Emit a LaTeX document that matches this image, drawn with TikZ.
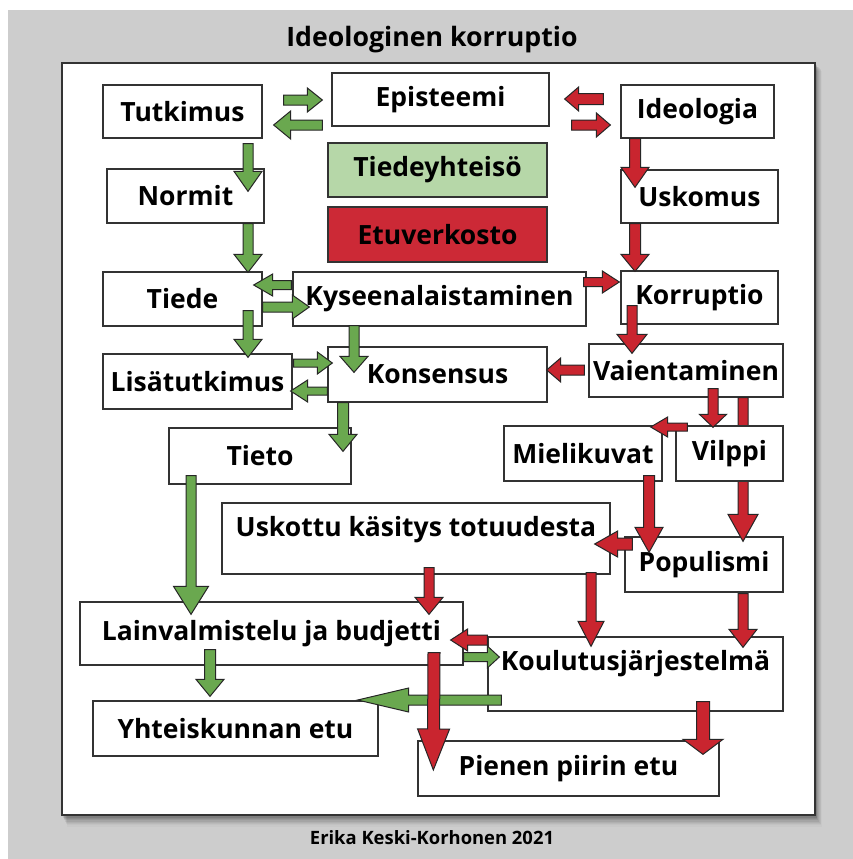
\documentclass[tikz,border=0pt]{standalone}
\usepackage{fontspec}
\setmainfont{Open Sans}
\usetikzlibrary{calc}
\definecolor{bggray}{HTML}{CDCDCD}
\definecolor{gboxc}{HTML}{B6D7A8}
\definecolor{rboxc}{HTML}{CC2936}
\definecolor{garr}{HTML}{6AA84F}
\definecolor{rarr}{HTML}{C9252F}
\definecolor{edge}{HTML}{333333}
\tikzset{
  box/.style={draw=edge, line width=1.3pt, fill=white, inner sep=0pt,
    font=\bfseries\fontsize{26.5}{30}\selectfont, text=black},
  arrowline/.style={draw=black!85, line width=1pt, line join=miter},
  lbl/.style={inner sep=0pt, font=\bfseries\fontsize{26.5}{30}\selectfont, text=black},
}
% #1 colour, #2 start, #3 end, #4 shaft half width, #5 head half width, #6 head length
\newcommand{\barr}[6]{%
  \path[arrowline, fill=#1] let \p1=#2, \p2=#3,
    \n1={atan2(\y2-\y1,\x2-\x1)}, \n2={veclen(\x2-\x1,\y2-\y1)} in
    {[shift={(\p1)}, rotate=\n1]
    (0pt,{-#4pt}) -- ({\n2-#6pt},{-#4pt}) -- ({\n2-#6pt},{-#5pt}) -- ({\n2},0pt)
    -- ({\n2-#6pt},{#5pt}) -- ({\n2-#6pt},{#4pt}) -- (0pt,{#4pt}) -- cycle};}
\begin{document}
\begin{tikzpicture}[x=1pt,y=-1pt]
\useasboundingbox (0,0) rectangle (853,859);
\fill[white] (0,0) rectangle (853,859);
\fill[bggray] (8,10) rectangle (853,859);
% shadow
\foreach \i/\o in {1/0.10,2/0.09,3/0.08,4/0.07,5/0.06,6/0.05,7/0.04,8/0.03,9/0.02}
  \fill[black, opacity=\o] (62+\i*0.6,63+\i*0.9) rectangle (815+\i*0.8,815+\i*1.3);
\fill[white] (62,63) rectangle (815,815);
\draw[edge, line width=1.6pt] (62,63) rectangle (815,815);

\node[inner sep=0pt, font=\bfseries\fontsize{26.7}{30}\selectfont] (title) at (432,40) {Ideologinen korruptio};
\node[inner sep=0pt, font=\bfseries\fontsize{18.4}{22}\selectfont] (caption) at (432,838) {Erika Keski-Korhonen 2021};

% boxes
\node[box, minimum width=159, minimum height=53] (tutk) at (182.5,111.5) {Tutkimus};
\node[box, minimum width=217, minimum height=53] (epist) at (440.5,99.5) {Episteemi};
\node[box, fill=gboxc, minimum width=219, minimum height=54] (tiedey) at (437.5,170) {Tiedeyhteisö};
\node[box, fill=rboxc, minimum width=219, minimum height=55] (etuv) at (437.5,234.5) {Etuverkosto};
\node[box, minimum width=157, minimum height=54] (normit) at (185.5,196) {Normit};
\node[box, minimum width=159, minimum height=54] (tiede) at (182.5,299) {Tiede};
\node[box, minimum width=293, minimum height=54] (kys) at (439.5,299) {Kyseenalaistaminen};
\node[box, minimum width=153, minimum height=53] (ideo) at (697.5,111.5) {Ideologia};
\node[box, minimum width=157, minimum height=53] (usko) at (699.5,196.5) {Uskomus};
\node[box, minimum width=157, minimum height=53] (korr) at (699.5,297.5) {Korruptio};
\node[box, minimum width=194, minimum height=53] (vaient) at (686,370.5) {Vaientaminen};
\node[box, minimum width=189, minimum height=55] (lisat) at (197.5,381.5) {Lisätutkimus};
\node[box, minimum width=219, minimum height=55] (kons) at (437.5,374.5) {Konsensus};
\node[box, minimum width=182, minimum height=56] (tieto) at (260,456) {Tieto};
\node[box, minimum width=388, minimum height=71] (uskottu) at (416,538.5) {};
\node[lbl] (uskottut) at (416,530) {Uskottu käsitys totuudesta};
\node[box, minimum width=158, minimum height=55] (mielik) at (583,453.5) {Mielikuvat};
\node[box, minimum width=158, minimum height=55] (popul) at (704,564.5) {Populismi};
\node[box, minimum width=383, minimum height=63] (lainv) at (271.5,633.5) {Lainvalmistelu ja budjetti};
\node[box, minimum width=285, minimum height=55] (yht) at (235.5,728.5) {Yhteiskunnan etu};
\node[box, minimum width=295, minimum height=74] (koul) at (635.5,674) {};
\node[lbl] (koult) at (635.5,664) {Koulutusjärjestelmä};
\node[box, minimum width=301, minimum height=55] (pienen) at (568.5,768.5) {Pienen piirin etu};

% arrow running behind Vilppi
\barr{rarr}{($(vaient.south)+(57,0)$)}{($(popul.north)+(39,5)$)}{5}{15}{27}
\node[box, minimum width=107, minimum height=55] (vilppi) at (729.5,453.5) {Vilppi};

% green arrows
\barr{garr}{($(tutk.east)+(21,-11.5)$)}{($(epist.west)+(-9,0.5)$)}{5}{12}{15}
\barr{garr}{($(epist.west)+(-9,25.5)$)}{($(tutk.east)+(11,13.5)$)}{5}{14}{17}
\barr{garr}{($(tutk.south)+(65.5,5)$)}{($(normit.north)+(62.5,23)$)}{5}{14}{20}
\barr{garr}{($(normit.south)+(62.5,0)$)}{($(tiede.north)+(65.5,1)$)}{5}{14}{18}
\barr{garr}{($(kys.west)+(-1,-14)$)}{($(tiede.east)+(-9,-14)$)}{4.5}{11}{19}
\barr{garr}{($(tiede.east)+(0,8)$)}{($(kys.west)+(17,8)$)}{5}{12}{17}
\barr{garr}{($(tiede.south)+(65.5,-16)$)}{($(lisat.north)+(50.5,4)$)}{5}{14}{18}
\barr{garr}{($(kys.south)+(-85.5,-1)$)}{($(kons.north)+(-83.5,26)$)}{5}{14}{16}
\barr{garr}{($(lisat.east)+(1,-18.5)$)}{($(kons.west)+(5,-11.5)$)}{4}{11}{15}
\barr{garr}{($(kons.west)+(0,16.5)$)}{($(lisat.east)+(-2,9.5)$)}{4}{11}{17}
\barr{garr}{($(kons.south)+(-94.5,0)$)}{($(tieto.north)+(83,24)$)}{5.5}{14}{17}
\barr{garr}{($(tieto.south)+(-69,-9)$)}{($(lainv.north)+(-80.5,13)$)}{5}{17.5}{28}
\barr{garr}{($(lainv.south)+(-61.5,-16)$)}{($(yht.north)+(-25.5,-4)$)}{5.5}{14}{17}
\barr{garr}{($(koul.west)+(14,26)$)}{($(yht.east)+(-21,-28.5)$)}{5}{12}{51}
\barr{garr}{($(lainv.east)+(0,23.5)$)}{($(koul.west)+(12,-17)$)}{4.5}{11}{12}

% red arrows
\barr{rarr}{($(ideo.west)+(-17,-12.5)$)}{($(epist.east)+(15,-0.5)$)}{5.5}{12}{14}
\barr{rarr}{($(epist.east)+(22,25.5)$)}{($(ideo.west)+(-10,13.5)$)}{5}{12}{14}
\barr{rarr}{($(ideo.south)+(-62.5,0)$)}{($(usko.north)+(-64.5,18)$)}{5.5}{14}{20}
\barr{rarr}{($(usko.south)+(-64.5,0)$)}{($(korr.north)+(-64.5,1)$)}{5.5}{14}{17}
\barr{rarr}{($(kys.east)+(-3,-17)$)}{($(korr.west)+(-1,-15.5)$)}{4.5}{11}{17}
\barr{rarr}{($(korr.south)+(-67.5,-19)$)}{($(vaient.north)+(-54,10)$)}{5}{15}{19}
\barr{rarr}{($(vaient.west)+(-4,-0.5)$)}{($(kons.east)+(-1,-4.5)$)}{5}{12}{14}
\barr{rarr}{($(vaient.south)+(27,-9)$)}{($(vilppi.north)+(-16.5,2)$)}{5}{13.5}{13}
\barr{rarr}{($(vilppi.west)+(12,-26.5)$)}{($(mielik.east)+(-12,-26.5)$)}{4}{10}{17}
\barr{rarr}{($(mielik.south)+(66,-6)$)}{($(popul.north)+(-55,16)$)}{5.5}{14}{25}
\barr{rarr}{($(popul.west)+(8,-20.5)$)}{($(uskottu.east)+(-16,5.5)$)}{6}{13}{23}
\barr{rarr}{($(uskottu.south)+(13,-7)$)}{($(lainv.north)+(157.5,13)$)}{5}{14}{17}
\barr{rarr}{($(uskottu.south)+(175,-2)$)}{($(koul.north)+(-44.5,10)$)}{5}{13}{25}
\barr{rarr}{($(popul.south)+(39,1)$)}{($(koul.north)+(107.5,11)$)}{5}{14}{18}
\barr{rarr}{($(koul.west)+(0,-34)$)}{($(lainv.east)+(-13,6.5)$)}{5}{11}{17}
\barr{rarr}{($(lainv.south)+(162.5,-13)$)}{($(pienen.west)+(16,1.5)$)}{6}{16}{41}
\barr{rarr}{($(koul.south)+(67.5,-10)$)}{($(pienen.north)+(134.5,14)$)}{6.5}{20}{15}
\end{tikzpicture}
\end{document}
